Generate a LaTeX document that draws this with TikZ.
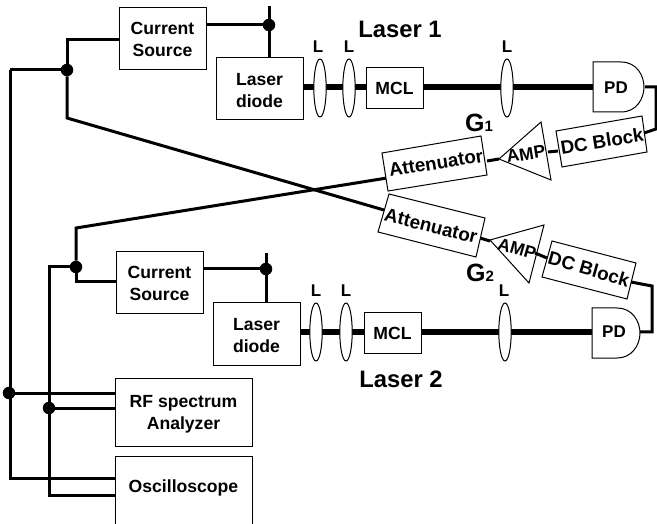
\documentclass[tikz,border=0pt]{standalone}
\usepackage{fontspec}
\setmainfont{Liberation Sans}
\newcommand{\dn}{\rule{0pt}{16pt}}
\begin{document}
\begin{tikzpicture}[x=1pt,y=-1pt,
  box/.style={draw,line width=1pt,fill=white,inner sep=0pt,font=\bfseries\fontsize{17.6}{22}\selectfont,align=center},
  wire/.style={line width=3pt,line join=miter},
  beam/.style={line width=5.5pt},
  dot/.style={circle,fill=black,inner sep=0pt,minimum size=12.5pt},
  lbl/.style={font=\bfseries\fontsize{17}{18}\selectfont,inner sep=0pt},
  tilt/.style={font=\bfseries\fontsize{18.8}{20}\selectfont,inner sep=0pt},
  pdlabel/.style={inner sep=0pt,font=\bfseries\fontsize{17}{18}\selectfont},
  poly/.style={draw,line width=1pt,fill=white}]
\useasboundingbox (0,0) rectangle (657,524);
% anchors
\coordinate (t1) at (269,6);
\coordinate (t2) at (266,253);
\coordinate (c1) at (67,40);
\coordinate (k1) at (67,118);
\coordinate (l1) at (10,70);
\coordinate (l2) at (10,478);
\coordinate (c2) at (76,282);
\coordinate (k2) at (76,228);
\coordinate (m1) at (49,267);
\coordinate (m2) at (49,495);
\coordinate (e1) at (656,129);
\coordinate (e1b) at (656,87);
\coordinate (e2) at (652,286);
\coordinate (e2b) at (652,332);
% junctions
\node[dot] (j1) at (67,70) {};
\node[dot] (j2) at (269,25) {};
\node[dot] (j3) at (76,267) {};
\node[dot] (j4) at (266,269) {};
\node[dot] (j5) at (9,393) {};
\node[dot] (j6) at (49,408) {};
% boxes
\node[box,minimum width=87pt,minimum height=62pt] (cs1) at (162.5,39) {Current\\Source};
\node[box,minimum width=87pt,minimum height=62pt] (ld1) at (259.5,89) {\dn Laser\\diode};
\node[box,minimum width=87pt,minimum height=62pt] (cs2) at (159.5,283) {Current\\Source};
\node[box,minimum width=87pt,minimum height=62pt] (ld2) at (256.5,334) {\dn Laser\\diode};
\node[box,minimum width=137pt,minimum height=68pt] (rf) at (183.5,412) {\dn RF spectrum\\Analyzer};
\node[box,minimum width=137pt,minimum height=68pt,text depth=7pt] (osc) at (183.5,490) {Oscilloscope};
\node[box,minimum width=57pt,minimum height=41pt] (mcl1) at (394.5,88.5) {MCL};
\node[box,minimum width=57pt,minimum height=40pt] (mcl2) at (392.5,333) {MCL};
% wires
\draw[wire] (t1) -- (j2);
\draw[wire] (j2) -- (ld1.north -| j2);
\draw[wire] (cs1.east |- j2) -- (j2);
\draw[wire] (cs1.west |- c1) -- (c1) -- (j1);
\draw[wire] (l1) -- (j1);
\draw[wire] (l1) -- (l2) -- (osc.west |- l2);
\draw[wire] (t2) -- (j4);
\draw[wire] (j4) -- (ld2.north -| j4);
\draw[wire] (cs2.east |- j4) -- (j4);
\draw[wire] (cs2.west |- c2) -- (c2) -- (j3);
\draw[wire] (j3) -- (m1) -- (m2) -- (osc.west |- m2);
\draw[wire] (j5) -- (rf.west |- j5);
\draw[wire] (j6) -- (rf.west |- j6);
% beams
\draw[beam] (ld1.east |- 0,87) -- (mcl1.west |- 0,87);
\draw[beam] (mcl1.east |- 0,87) -- (597,87);
\draw[beam] (ld2.east |- 0,332) -- (mcl2.west |- 0,332);
\draw[beam] (mcl2.east |- 0,332) -- (596,332);
% lenses
\foreach \x/\y in {320/88,349/88,507/88,316/332,346/332,505/332}{
  \draw[line width=1pt,fill=white] (\x,\y) ellipse (6.2pt and 29pt);
}
\foreach \n/\x/\y in {a/318/47,b/349/47,c/507/47,d/316/291,e/346/291,f/504/291}{
  \node[lbl] (L\n) at (\x,\y) {L};
}
% photodiodes
\draw[wire] (645,87) -- (e1b) -- (e1) -- (644,133);
\path[poly] (593,62) -- (621,62) .. controls (637,62) and (644,76) .. (644,87) .. controls (644,98) and (637,112) .. (621,112) -- (593,112) -- cycle;
\path[poly] (592,308) -- (617,308) .. controls (632,308) and (640,321) .. (640,333) .. controls (640,345) and (632,358) .. (617,358) -- (592,358) -- cycle;
\node[pdlabel] (pd1) at (616,88) {PD};
\node[pdlabel] (pd2) at (614,332) {PD};
% tilted branch
\coordinate (a1l) at (387,178);
\coordinate (a2l) at (384,210);
\draw[wire] (j1) -- (k1) -- (a2l);
\draw[wire] (j3) -- (k2) -- (a1l);
\draw[wire] (487,161) -- (499,159);
\draw[wire] (548,152) -- (558,151);
\draw[wire] (480,238) -- (490,241);
\draw[wire] (535,253) -- (547,258);
\draw[wire] (631,282) -- (e2) -- (e2b) -- (640,332);
\draw[poly] (382,153) -- (481,136) -- (487,175) -- (388,191) -- cycle;
\draw[poly] (389,194) -- (485,218) -- (476,257) -- (378,232) -- cycle;
\draw[line width=1pt] (499,159) -- (541,122) -- (551,180) -- cycle;
\draw[line width=1pt] (490,240) -- (544,225) -- (529,283) -- cycle;
\draw[line width=1pt] (556,131) -- (642,116) -- (647,152) -- (562,167) -- cycle;
\draw[line width=1pt] (552,241) -- (636,263) -- (627,299) -- (542,277) -- cycle;
\node[tilt,rotate=9] (at1) at (436,163) {Attenuator};
\node[tilt,rotate=-14] (at2) at (431,226) {Attenuator};
\node[tilt,font=\bfseries\fontsize{17.5}{20}\selectfont,rotate=9] (am1) at (526,154) {AMP};
\node[tilt,font=\bfseries\fontsize{17.5}{20}\selectfont,rotate=-16] (am2) at (517,249) {AMP};
\node[tilt,rotate=9] (dc1) at (602,141) {DC Block};
\node[tilt,rotate=-16] (dc2) at (589,269) {DC Block};
% titles
\node[inner sep=0pt,font=\bfseries\fontsize{23.8}{26}\selectfont] (t1t) at (400,29) {Laser 1};
\node[inner sep=0pt,font=\bfseries\fontsize{23.8}{26}\selectfont] (t2t) at (401,379) {Laser 2};
\node[inner sep=0pt] (g1) at (479,123) {\bfseries\fontsize{25}{26}\selectfont G\fontsize{15}{16}\selectfont 1};
\node[inner sep=0pt] (g2) at (480,273) {\bfseries\fontsize{25}{26}\selectfont G\fontsize{15}{16}\selectfont 2};
\end{tikzpicture}
\end{document}
